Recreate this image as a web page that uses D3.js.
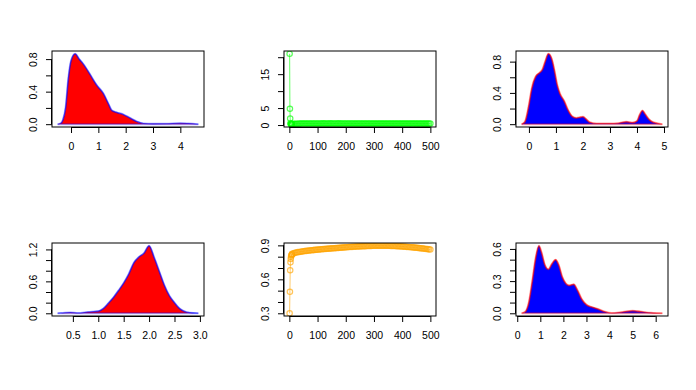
<!DOCTYPE html>
<html>
<head>
<meta charset="utf-8">
<script src="https://cdn.jsdelivr.net/npm/d3@7"></script>
<style>
  body { margin: 0; background: #fff; }
  svg { display: block; font-family: "Liberation Sans", Arial, sans-serif; }
</style>
</head>
<body>
<svg id="chart" width="696" height="390"></svg>
<script>
// ---- data ----
// top left: density, red fill
const densAX = [-0.49, -0.38, -0.3, -0.2, -0.1, 0.0, 0.15, 0.3, 0.45, 0.7, 0.94, 1.18, 1.37, 1.49, 1.67, 1.91, 2.16, 2.4, 2.65, 3.0, 3.5, 4.0, 4.3, 4.66];
const densAY = [0.0, 0.01, 0.05, 0.2, 0.56, 0.78, 0.865, 0.8, 0.74, 0.61, 0.48, 0.38, 0.25, 0.17, 0.145, 0.12, 0.076, 0.034, 0.008, 0.004, 0.006, 0.012, 0.008, 0.0];

// top right: density, blue fill
const densBX = [-0.27, -0.15, 0.0, 0.1, 0.25, 0.4, 0.5, 0.6, 0.72, 0.85, 0.95, 1.05, 1.15, 1.3, 1.45, 1.6, 1.75, 1.9, 2.0, 2.1, 2.25, 2.5, 3.0, 3.3, 3.6, 3.85, 4.0, 4.1, 4.2, 4.3, 4.45, 4.6, 4.94];
const densBY = [0.0, 0.03, 0.25, 0.45, 0.61, 0.66, 0.7, 0.8, 0.9, 0.83, 0.68, 0.5, 0.39, 0.3, 0.18, 0.1, 0.08, 0.09, 0.095, 0.07, 0.025, 0.008, 0.008, 0.012, 0.03, 0.02, 0.04, 0.12, 0.175, 0.13, 0.06, 0.025, 0.0];

// bottom left: density, red fill
const densCX = [0.2, 0.3, 0.45, 0.6, 0.8, 1.0, 1.1, 1.2, 1.3, 1.4, 1.5, 1.6, 1.7, 1.8, 1.9, 2.0, 2.1, 2.2, 2.3, 2.4, 2.5, 2.6, 2.7, 2.8, 2.97];
const densCY = [0.0, 0.006, 0.014, 0.005, 0.025, 0.04, 0.09, 0.19, 0.3, 0.43, 0.57, 0.74, 0.95, 1.06, 1.13, 1.27, 1.05, 0.79, 0.53, 0.33, 0.2, 0.09, 0.035, 0.012, 0.0];

// bottom right: density, blue fill
const densDX = [0.19, 0.35, 0.5, 0.65, 0.8, 0.94, 1.05, 1.2, 1.35, 1.5, 1.66, 1.8, 1.95, 2.1, 2.25, 2.45, 2.6, 2.8, 3.0, 3.2, 3.5, 3.8, 4.1, 4.5, 5.0, 5.4, 5.8, 6.29];
const densDY = [0.0, 0.015, 0.1, 0.3, 0.52, 0.63, 0.57, 0.45, 0.41, 0.46, 0.5, 0.45, 0.34, 0.28, 0.26, 0.27, 0.22, 0.13, 0.08, 0.06, 0.04, 0.015, 0.003, 0.01, 0.024, 0.014, 0.004, 0.0];

// iteration traces (middle column)
const iterX = [1, 2, 3, 4, 5, 6, 7, 8, 9, 10,
  15, 20, 25, 30, 35, 40, 45, 50, 55, 60, 65, 70, 75, 80, 85, 90, 95, 100,
  105, 110, 115, 120, 125, 130, 135, 140, 145, 150, 155, 160, 165, 170, 175, 180, 185, 190, 195, 200,
  205, 210, 215, 220, 225, 230, 235, 240, 245, 250, 255, 260, 265, 270, 275, 280, 285, 290, 295, 300,
  305, 310, 315, 320, 325, 330, 335, 340, 345, 350, 355, 360, 365, 370, 375, 380, 385, 390, 395, 400,
  405, 410, 415, 420, 425, 430, 435, 440, 445, 450, 455, 460, 465, 470, 475, 480, 485, 490, 495, 500];
const lossY = [21.0, 4.8, 1.9, 0.5, 0.3, 0.25, 0.25, 0.28, 0.3, 0.3,
  0.33, 0.36, 0.38, 0.40, 0.41, 0.42, 0.43, 0.44, 0.44, 0.45, 0.45, 0.46, 0.45, 0.46, 0.46, 0.47, 0.46, 0.47,
  0.47, 0.46, 0.47, 0.48, 0.47, 0.47, 0.46, 0.47, 0.48, 0.47, 0.47, 0.46, 0.47, 0.47, 0.48, 0.47, 0.46, 0.47, 0.47, 0.46,
  0.47, 0.46, 0.46, 0.47, 0.46, 0.46, 0.45, 0.46, 0.46, 0.47, 0.46, 0.45, 0.46, 0.46, 0.45, 0.46, 0.46, 0.45, 0.45, 0.46,
  0.45, 0.45, 0.46, 0.45, 0.44, 0.45, 0.45, 0.44, 0.45, 0.45, 0.44, 0.44, 0.45, 0.44, 0.44, 0.43, 0.44, 0.44, 0.43, 0.44,
  0.43, 0.43, 0.44, 0.43, 0.43, 0.42, 0.43, 0.43, 0.42, 0.43, 0.42, 0.42, 0.43, 0.42, 0.42, 0.41, 0.42, 0.42, 0.41, 0.42];
const accY = [0.30, 0.49, 0.68, 0.75, 0.78, 0.80, 0.81, 0.815, 0.82, 0.825,
  0.830, 0.834, 0.837, 0.840, 0.842, 0.844, 0.846, 0.848, 0.850, 0.851, 0.853, 0.854, 0.856, 0.857, 0.858, 0.860, 0.861, 0.862,
  0.863, 0.865, 0.866, 0.867, 0.868, 0.869, 0.870, 0.871, 0.872, 0.873, 0.874, 0.875, 0.876, 0.877, 0.878, 0.879, 0.880, 0.881, 0.882, 0.883,
  0.884, 0.885, 0.886, 0.887, 0.887, 0.888, 0.889, 0.890, 0.890, 0.891, 0.892, 0.892, 0.893, 0.893, 0.894, 0.894, 0.895, 0.895, 0.896, 0.896,
  0.896, 0.897, 0.897, 0.897, 0.897, 0.897, 0.897, 0.897, 0.896, 0.896, 0.896, 0.895, 0.895, 0.894, 0.894, 0.893, 0.893, 0.892, 0.891, 0.890,
  0.889, 0.888, 0.887, 0.886, 0.885, 0.884, 0.883, 0.882, 0.880, 0.879, 0.878, 0.876, 0.875, 0.873, 0.872, 0.870, 0.868, 0.867, 0.865, 0.863];

// ticks and their labels (R drops some labels that would collide)
const ticksA = { x: [0, 1, 2, 3, 4], xl: ['0', '1', '2', '3', '4'], y: [0, 0.2, 0.4, 0.6, 0.8], yl: ['0.0', '', '0.4', '', '0.8'] };
const ticksLoss = { x: [0, 100, 200, 300, 400, 500], xl: ['0', '100', '200', '300', '400', '500'], y: [0, 5, 10, 15, 20], yl: ['0', '5', '', '15', ''] };
const ticksB = { x: [0, 1, 2, 3, 4, 5], xl: ['0', '1', '2', '3', '4', '5'], y: [0, 0.2, 0.4, 0.6, 0.8], yl: ['0.0', '', '0.4', '', '0.8'] };
const ticksC = { x: [0.5, 1, 1.5, 2, 2.5, 3], xl: ['0.5', '1.0', '1.5', '2.0', '2.5', '3.0'], y: [0, 0.2, 0.4, 0.6, 0.8, 1.0, 1.2], yl: ['0.0', '', '', '0.6', '', '', '1.2'] };
const ticksAcc = { x: [0, 100, 200, 300, 400, 500], xl: ['0', '100', '200', '300', '400', '500'], y: [0.3, 0.4, 0.5, 0.6, 0.7, 0.8, 0.9], yl: ['0.3', '', '', '0.6', '', '', '0.9'] };
const ticksD = { x: [0, 1, 2, 3, 4, 5, 6], xl: ['0', '1', '2', '3', '4', '5', '6'], y: [0, 0.1, 0.2, 0.3, 0.4, 0.5, 0.6], yl: ['0.0', '', '', '0.3', '', '', '0.6'] };

// ---- layout ----
const svg = d3.select('#chart');
const colLeft = [52, 284, 516];
const plotW = 152;
const rowTop = [51, 243];
const rowBottom = [127, 316];

const panels = [
  { c: 0, r: 0, kind: 'dens', xs: densAX, ys: densAY, fill: 'red', line: 'blue', t: ticksA },
  { c: 1, r: 0, kind: 'trace', xs: iterX, ys: lossY, line: '#00ff00', t: ticksLoss },
  { c: 2, r: 0, kind: 'dens', xs: densBX, ys: densBY, fill: 'blue', line: 'red', t: ticksB },
  { c: 0, r: 1, kind: 'dens', xs: densCX, ys: densCY, fill: 'red', line: 'blue', t: ticksC },
  { c: 1, r: 1, kind: 'trace', xs: iterX, ys: accY, line: '#ffa500', t: ticksAcc },
  { c: 2, r: 1, kind: 'dens', xs: densDX, ys: densDY, fill: 'blue', line: 'red', t: ticksD }
];

// R pads the data range by 4% on each side
function padded(vals) {
  const [lo, hi] = d3.extent(vals);
  const p = (hi - lo) * 0.04;
  return [lo - p, hi + p];
}

panels.forEach((p, i) => {
  const left = colLeft[p.c], right = left + plotW;
  const top = rowTop[p.r], bottom = rowBottom[p.r];
  const x = d3.scaleLinear().domain(padded(p.xs)).range([left, right]);
  const y = d3.scaleLinear().domain(padded(p.ys)).range([bottom, top]);
  const pts = p.xs.map((v, k) => [v, p.ys[k]]);

  const g = svg.append('g');
  g.append('clipPath').attr('id', 'clip' + i)
    .append('rect').attr('x', left).attr('y', top).attr('width', plotW).attr('height', bottom - top);
  const inner = g.append('g').attr('clip-path', `url(#clip${i})`);

  if (p.kind === 'dens') {
    const line = d3.line().x(d => x(d[0])).y(d => y(d[1])).curve(d3.curveMonotoneX);
    inner.append('path')
      .attr('d', line(pts) + 'Z')
      .attr('fill', p.fill)
      .attr('stroke', p.line)
      .attr('stroke-opacity', 0.35)
      .attr('stroke-width', 2);
    inner.append('path')
      .attr('d', line(pts))
      .attr('fill', 'none')
      .attr('stroke', p.line)
      .attr('stroke-opacity', 0.6)
      .attr('stroke-width', 1.1);
  } else {
    const line = d3.line().x(d => x(d[0])).y(d => y(d[1]));
    inner.append('path')
      .attr('d', line(pts))
      .attr('fill', 'none')
      .attr('stroke', p.line)
      .attr('stroke-opacity', 0.6)
      .attr('stroke-width', 1);
    inner.selectAll('circle')
      .data(pts)
      .join('circle')
      .attr('cx', d => x(d[0]))
      .attr('cy', d => y(d[1]))
      .attr('r', 2.7)
      .attr('fill', 'none')
      .attr('stroke', p.line)
      .attr('stroke-opacity', 0.65)
      .attr('stroke-width', 1.2);
  }

  // box
  g.append('rect')
    .attr('x', left).attr('y', top)
    .attr('width', plotW).attr('height', bottom - top)
    .attr('fill', 'none').attr('stroke', '#000').attr('stroke-width', 1);

  // x axis
  const xAxis = g.append('g')
    .attr('transform', `translate(0,${bottom})`)
    .call(d3.axisBottom(x).tickValues(p.t.x).tickFormat((d, k) => p.t.xl[k]).tickSize(6).tickPadding(10));
  xAxis.select('.domain').remove();
  xAxis.append('line')
    .attr('x1', x(p.t.x[0])).attr('x2', x(p.t.x[p.t.x.length - 1]))
    .attr('y1', 0.5).attr('y2', 0.5)
    .attr('stroke', '#000');

  // y axis, labels turned like R's
  const yAxis = g.append('g')
    .attr('transform', `translate(${left},0)`)
    .call(d3.axisLeft(y).tickValues(p.t.y).tickFormat((d, k) => p.t.yl[k]).tickSize(6));
  yAxis.select('.domain').remove();
  yAxis.selectAll('.tick text')
    .attr('x', null).attr('dy', '0.36em')
    .attr('text-anchor', 'middle')
    .attr('transform', 'translate(-19,0) rotate(-90)');
  yAxis.append('line')
    .attr('x1', -0.5).attr('x2', -0.5)
    .attr('y1', y(p.t.y[0])).attr('y2', y(p.t.y[p.t.y.length - 1]))
    .attr('stroke', '#000');

  g.selectAll('.tick text').attr('font-size', 10.5).attr('font-family', '"Liberation Sans", Arial, sans-serif').attr('fill', '#000');
});
</script>
</body>
</html>
